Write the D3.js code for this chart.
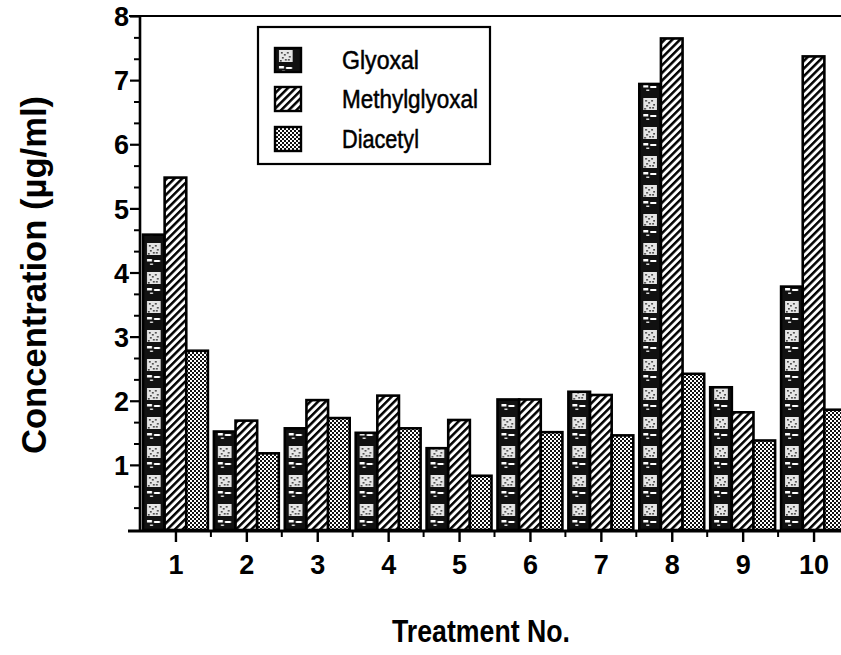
<!DOCTYPE html>
<html>
<head>
<meta charset="utf-8">
<script src="https://cdn.jsdelivr.net/npm/d3@7"></script>
<style>
  html, body { margin: 0; padding: 0; background: #fff; }
  svg { display: block; }
  text { font-family: "Liberation Sans", Arial, Helvetica, sans-serif; fill: #000; }
</style>
</head>
<body>
<svg id="chart" width="841" height="655"></svg>
<script>
// ---- data ----
const categories = ["1", "2", "3", "4", "5", "6", "7", "8", "9", "10"];
const seriesNames = ["Glyoxal", "Methylglyoxal", "Diacetyl"];
const glyoxal       = [4.59, 1.52, 1.57, 1.50, 1.26, 2.02, 2.14, 6.94, 2.21, 3.78];
const methylglyoxal = [5.48, 1.69, 2.01, 2.08, 1.70, 2.02, 2.09, 7.65, 1.82, 7.37];
const diacetyl      = [2.78, 1.18, 1.73, 1.57, 0.83, 1.51, 1.46, 2.42, 1.38, 1.86];
const yTickValues   = [1, 2, 3, 4, 5, 6, 7, 8];
const yTitle = "Concentration (\u00b5g/ml)";
const xTitle = "Treatment No.";

const seriesValues = [glyoxal, methylglyoxal, diacetyl];

const svg = d3.select("#chart");
const defs = svg.append("defs");

// ---- scales ----
const x = d3.scaleBand().domain(categories).range([140, 849]).paddingInner(0).paddingOuter(0);
const xs = d3.scaleBand().domain(seriesNames).range([3, x.step() - 3]);
const y = d3.scaleLinear().domain([0, 8]).range([529, 16]);

// ---- patterns ----
function glyoxalPattern(id, px, py) {
  const w = xs.bandwidth();
  const p = defs.append("pattern").attr("id", id)
    .attr("patternUnits", "userSpaceOnUse")
    .attr("x", px).attr("y", py)
    .attr("width", w).attr("height", 29);
  p.append("rect").attr("width", w).attr("height", 29).attr("fill", "#111");
  p.append("rect").attr("x", 4).attr("y", 4).attr("width", w - 8).attr("height", 12).attr("fill", "#e6e6e6");
  const dots = [[6,6],[9,8],[12,6],[14,10],[7,11],[10,13],[13,13],[5,14]];
  dots.forEach(d => p.append("rect").attr("x", d[0]).attr("y", d[1]).attr("width", 1.6).attr("height", 1.6).attr("fill", "#333"));
  p.append("rect").attr("x", 4).attr("y", 20).attr("width", 5).attr("height", 2.5).attr("fill", "#fff");
  p.append("rect").attr("x", 11).attr("y", 21).attr("width", 6).attr("height", 2).attr("fill", "#fff");
  p.append("rect").attr("x", 7).attr("y", 24.5).attr("width", 3).attr("height", 1.5).attr("fill", "#ddd");
}

const hatch = defs.append("pattern").attr("id", "hatch")
  .attr("patternUnits", "userSpaceOnUse")
  .attr("width", 5.4).attr("height", 10)
  .attr("patternTransform", "rotate(45)");
hatch.append("rect").attr("width", 5.4).attr("height", 10).attr("fill", "#fff");
hatch.append("rect").attr("x", 0).attr("width", 2.5).attr("height", 10).attr("fill", "#000");

const dotsP = defs.append("pattern").attr("id", "dots")
  .attr("patternUnits", "userSpaceOnUse")
  .attr("width", 4).attr("height", 4);
dotsP.append("rect").attr("width", 4).attr("height", 4).attr("fill", "#fff");
dotsP.append("rect").attr("x", 0).attr("y", 0).attr("width", 2).attr("height", 2).attr("fill", "#111");
dotsP.append("rect").attr("x", 2).attr("y", 2).attr("width", 2).attr("height", 2).attr("fill", "#111");

// ---- bars ----
const barData = [];
categories.forEach((c, i) => {
  seriesNames.forEach((s, j) => {
    barData.push({ cat: c, series: s, si: j, value: seriesValues[j][i], idx: i });
  });
});

barData.forEach(d => {
  if (d.si === 0) glyoxalPattern("gly" + d.idx, x(d.cat) + xs(d.series), y(0));
});

const fills = ["", "url(#hatch)", "url(#dots)"];
svg.append("g").selectAll("rect").data(barData).join("rect")
  .attr("x", d => x(d.cat) + xs(d.series))
  .attr("y", d => y(d.value))
  .attr("width", xs.bandwidth())
  .attr("height", d => y(0) - y(d.value) + 1)
  .attr("fill", d => d.si === 0 ? "url(#gly" + d.idx + ")" : fills[d.si])
  .attr("stroke", "#000")
  .attr("stroke-width", 2.6);

// ---- axes ----
const axisG = svg.append("g");
axisG.append("line").attr("x1", 129).attr("x2", 841).attr("y1", y(8)).attr("y2", y(8))
  .attr("stroke", "#000").attr("stroke-width", 2.2);
axisG.append("line").attr("x1", 140).attr("x2", 140).attr("y1", y(8) - 1).attr("y2", 532)
  .attr("stroke", "#000").attr("stroke-width", 2.6);
axisG.append("line").attr("x1", 128).attr("x2", 841).attr("y1", 531).attr("y2", 531)
  .attr("stroke", "#000").attr("stroke-width", 3);

const yAxis = d3.axisLeft(y).tickValues(yTickValues).tickSize(10).tickPadding(4).tickFormat(d3.format("d"));
const yAxisG = svg.append("g").attr("transform", "translate(140,0)").call(yAxis);
yAxisG.select(".domain").remove();
yAxisG.selectAll(".tick line").attr("stroke", "#000").attr("stroke-width", 2.2);
yAxisG.selectAll(".tick text").attr("font-size", 27).attr("font-weight", "bold")
  .attr("font-family", "Liberation Sans, Arial, sans-serif").attr("fill", "#000").attr("x", -11)
  .attr("dy", "0.36em");

const minorY = d3.range(0, 24).map(k => k / 3).filter(v => Math.abs(v - Math.round(v)) > 0.01);
const yMinor = d3.axisLeft(y).tickValues(minorY).tickSize(6).tickFormat("");
const yMinorG = svg.append("g").attr("transform", "translate(140,0)").call(yMinor);
yMinorG.select(".domain").remove();
yMinorG.selectAll(".tick line").attr("stroke", "#000").attr("stroke-width", 2);

const xCenter = d3.scalePoint().domain(categories)
  .range([x(categories[0]) + x.step() / 2, x(categories[categories.length - 1]) + x.step() / 2]);
const xAxis = d3.axisBottom(xCenter).tickSize(11).tickPadding(13);
const xAxisG = svg.append("g").attr("transform", "translate(0,531)").call(xAxis);
xAxisG.select(".domain").remove();
xAxisG.selectAll(".tick line").attr("stroke", "#000").attr("stroke-width", 2.4);
xAxisG.selectAll(".tick text").attr("font-size", 27).attr("font-weight", "bold")
  .attr("font-family", "Liberation Sans, Arial, sans-serif").attr("fill", "#000");

const xMinorG = svg.append("g").attr("transform", "translate(0,531)");
xMinorG.selectAll("line").data(categories.slice(1)).join("line")
  .attr("x1", d => x(d)).attr("x2", d => x(d))
  .attr("y1", 0).attr("y2", 6)
  .attr("stroke", "#000").attr("stroke-width", 2);

// ---- titles ----
svg.append("text")
  .attr("transform", "translate(46,275) rotate(-90)")
  .attr("text-anchor", "middle")
  .attr("font-size", 35).attr("font-weight", "bold")
  .attr("textLength", 358).attr("lengthAdjust", "spacingAndGlyphs")
  .text(yTitle);

svg.append("text")
  .attr("x", 481).attr("y", 642)
  .attr("text-anchor", "middle")
  .attr("font-size", 32).attr("font-weight", "bold")
  .attr("textLength", 178).attr("lengthAdjust", "spacingAndGlyphs")
  .text(xTitle);

// ---- legend ----
const legend = svg.append("g");
legend.append("rect").attr("x", 258).attr("y", 27).attr("width", 232).attr("height", 137)
  .attr("fill", "#fff").attr("stroke", "#000").attr("stroke-width", 2.2);
const legY = [48, 87, 127];
const legLen = [77, 136, 77];
glyoxalPattern("glyLeg", 275, 46);
const legFills = ["url(#glyLeg)", "url(#hatch)", "url(#dots)"];
seriesNames.forEach((s, j) => {
  legend.append("rect").attr("x", 275).attr("y", legY[j]).attr("width", 26).attr("height", 24)
    .attr("fill", legFills[j]).attr("stroke", "#000").attr("stroke-width", 2.4);
  legend.append("text").attr("x", 342).attr("y", legY[j] + 12)
    .attr("dominant-baseline", "central")
    .attr("font-size", 25)
    .attr("stroke", "#000").attr("stroke-width", 0.5)
    .attr("textLength", legLen[j]).attr("lengthAdjust", "spacingAndGlyphs")
    .text(s);
});
</script>
</body>
</html>
